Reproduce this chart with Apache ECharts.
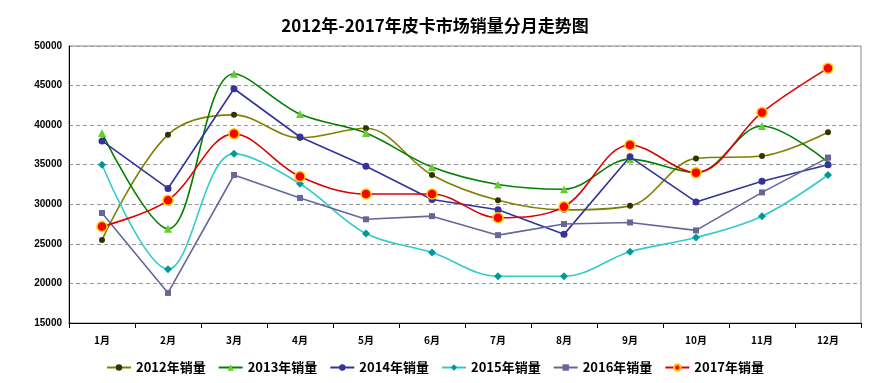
<!DOCTYPE html>
<html><head><meta charset="utf-8">
<script src="https://cdn.jsdelivr.net/npm/echarts@6/dist/echarts.min.js"></script>
<style>html,body{margin:0;padding:0;background:#fff}#c{width:870px;height:383px}</style>
</head><body><div id="c"></div>
<script>
const categories = ['1月','2月','3月','4月','5月','6月','7月','8月','9月','10月','11月','12月'];
const s2012 = [25500,38800,41300,38400,39600,33700,30500,29300,29800,35800,36100,39100];
const s2013 = [39000,26900,46500,41400,39000,34700,32500,31900,35700,34000,39900,35300];
const s2014 = [38000,32000,44600,38500,34800,30600,29300,26200,36000,30300,32900,35000];
const s2015 = [35000,21800,36400,32600,26300,23900,20900,20900,24000,25800,28500,33700];
const s2016 = [28900,18800,33700,30800,28100,28500,26100,27500,27700,26700,31500,35900];
const s2017 = [27200,30500,38900,33500,31300,31300,28300,29700,37500,34000,41600,47200];
const yTicks = {min:15000, max:50000, interval:5000};

const font = '"Liberation Sans", Arial, "Noto Sans CJK SC", sans-serif';
const chart = echarts.init(document.getElementById('c'));
function mk(name, data, lineColor, symColor, symbol, size, smooth, border) {
  return {
    name, type:'line', data, smooth: smooth ? 0.35 : false, symbol, symbolSize:size,
    lineStyle:{color:lineColor, width:1.6},
    itemStyle:{color:symColor, borderColor: border || symColor, borderWidth: border ? 1.5 : 0},
    emphasis:{disabled:true}
  };
}
chart.setOption({
  animation:false,
  title:{text:'2012年-2017年皮卡市场销量分月走势图', left:'center', top:12,
    textStyle:{fontFamily:'"Noto Sans CJK SC", sans-serif', fontSize:17, fontWeight:'bold', color:'#000'}},
  grid:{left:69, right:9, top:46, bottom:60, show:true, borderColor:'#888', borderWidth:1},
  legend:{bottom:4, left:'center', itemGap:12, itemWidth:24, itemHeight:8,
    textStyle:{fontFamily:'"Noto Sans CJK SC", sans-serif', fontSize:13, fontWeight:'bold', color:'#000'}},
  xAxis:{type:'category', data:categories, boundaryGap:true,
    axisLine:{lineStyle:{color:'#000', width:1}},
    axisTick:{show:true, alignWithLabel:false, length:5, lineStyle:{color:'#000'}},
    axisLabel:{margin:12, fontFamily:'"Noto Sans CJK SC", sans-serif', fontSize:10, fontWeight:'bold', color:'#000'}},
  yAxis:{type:'value', min:yTicks.min, max:yTicks.max, interval:yTicks.interval,
    axisLine:{show:true, lineStyle:{color:'#000', width:1}},
    axisTick:{show:false},
    axisLabel:{margin:7, fontFamily:font, fontSize:10, fontWeight:'bold', color:'#000',
      formatter: v => String(v)},
    splitLine:{lineStyle:{color:'#999', type:[4,3]}}},
  series:[
    mk('2012年销量', s2012, '#808000', '#333300', 'circle', 6, true),
    mk('2013年销量', s2013, '#008000', '#66CC33', 'triangle', 8, true),
    mk('2014年销量', s2014, '#333399', '#333399', 'circle', 7, false),
    mk('2015年销量', s2015, '#33CCCC', '#009999', 'diamond', 8, true),
    mk('2016年销量', s2016, '#666699', '#666699', 'rect', 6, false),
    mk('2017年销量', s2017, '#E00000', '#FF0000', 'circle', 10, true, '#FFCC00')
  ]
});
</script></body></html>
